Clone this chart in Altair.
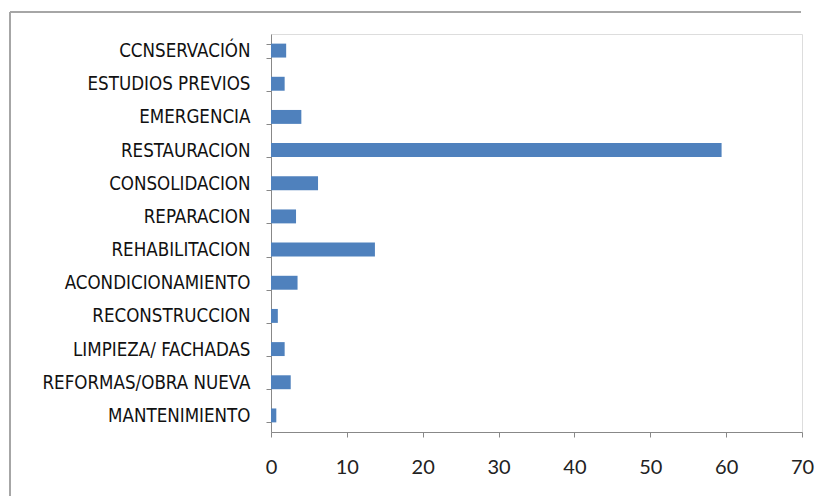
import altair as alt
import pandas as pd

categories = [
    "CCNSERVACIÓN\u00a0\u00a0",
    "ESTUDIOS PREVIOS",
    "EMERGENCIA",
    "RESTAURACION",
    "CONSOLIDACION",
    "REPARACION",
    "REHABILITACION",
    "ACONDICIONAMIENTO",
    "RECONSTRUCCION",
    "LIMPIEZA/ FACHADAS",
    "REFORMAS/OBRA NUEVA\u00a0\u00a0",
    "MANTENIMIENTO",
]
values = [2.0, 1.8, 4.0, 59.4, 6.2, 3.3, 13.7, 3.5, 0.9, 1.8, 2.6, 0.7]
x_ticks = [0, 10, 20, 30, 40, 50, 60, 70]

df = pd.DataFrame({"cat": categories, "val": values})

bars = alt.Chart(df).mark_bar(color="#4F81BD").encode(
    x=alt.X("val:Q",
            scale=alt.Scale(domain=[0, 70], nice=False),
            axis=alt.Axis(values=x_ticks, title=None, grid=False,
                          domainColor="#888888", tickColor="#888888",
                          tickSize=5, labelFont="Lato", labelFontSize=20,
                          labelColor="#222222", labelPadding=20,
                          labelFlush=False)),
    y=alt.Y("cat:N", sort=None,
            scale=alt.Scale(paddingInner=0.58, paddingOuter=0.29),
            axis=alt.Axis(title=None, grid=False, tickBand="extent",
                          domainColor="#888888", tickColor="#888888",
                          tickSize=5,
                          labelFont="DejaVu Sans Condensed",
                          labelFontSize=18.6, labelColor="#111111",
                          labelPadding=16, labelLimit=300)),
)

one = alt.Data(values=[{}])
left_edge = alt.Chart(one).mark_rule(
    color="#A6A6A6", strokeWidth=2, clip=False
).encode(x=alt.value(-261), y=alt.value(-22), y2=alt.value(470))
top_edge = alt.Chart(one).mark_rule(
    color="#A6A6A6", strokeWidth=2, clip=False
).encode(x=alt.value(-261), x2=alt.value(530), y=alt.value(-22))

chart = alt.layer(left_edge, top_edge, bars).properties(
    width=531, height=398,
    autosize=alt.AutoSizeParams(type="none"),
    padding={"left": 271, "top": 34, "right": 24, "bottom": 64},
).configure_view(stroke=None).configure(background="white")

chart.save("out.html", embed_options={"renderer": "svg", "actions": False})
